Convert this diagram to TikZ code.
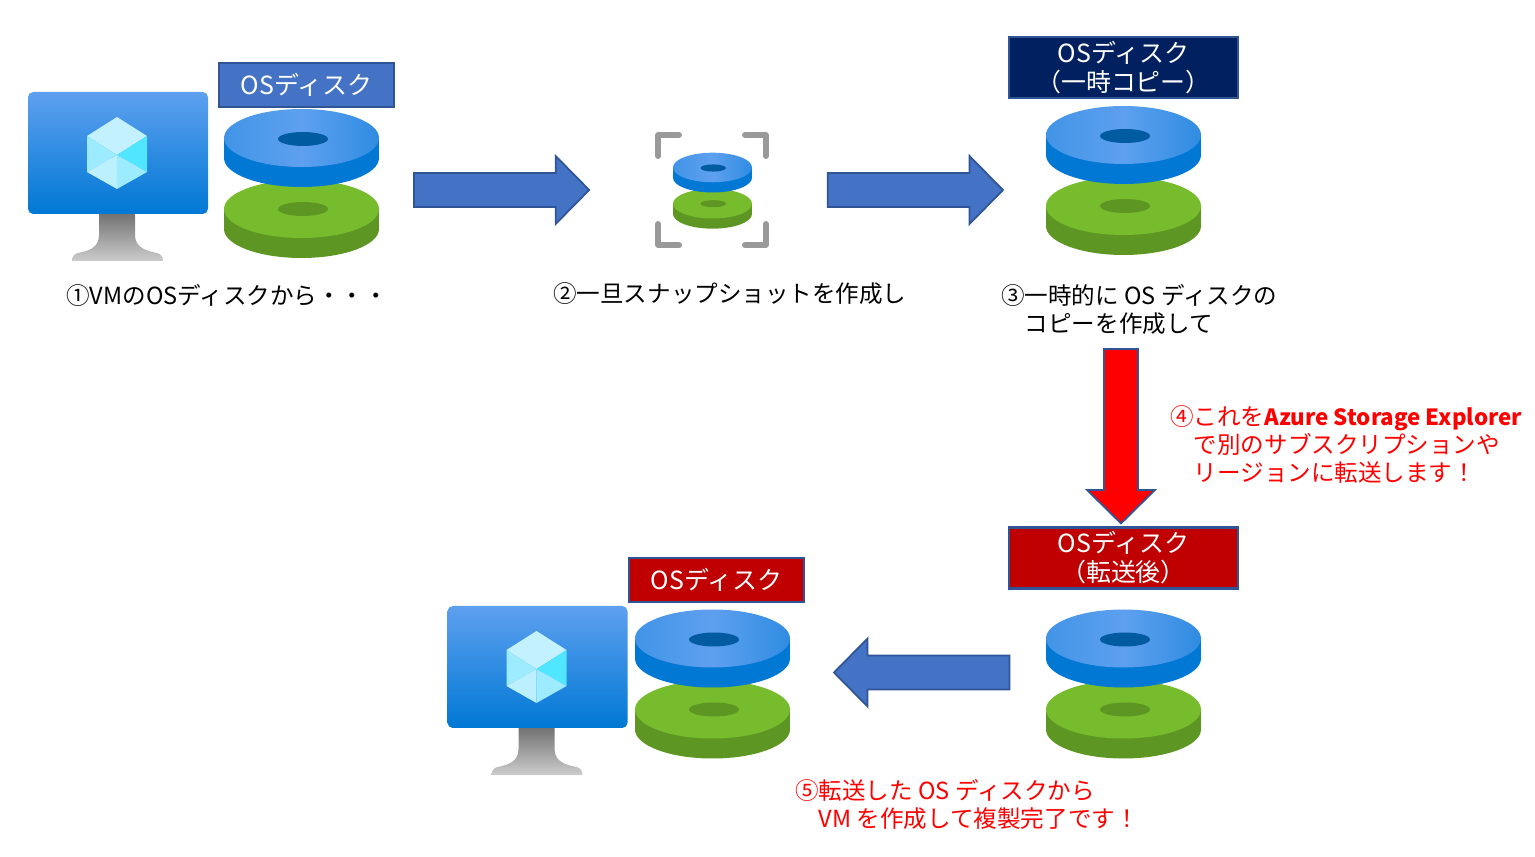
\documentclass[tikz,border=0pt]{standalone}
\usepackage{fontspec}
\usepackage{xcolor}
\usetikzlibrary{calc}
\setmainfont{Noto Sans CJK JP}
\definecolor{boxline}{HTML}{2F5597}
\definecolor{boxblue}{HTML}{4472C4}
\definecolor{boxnavy}{HTML}{002060}
\definecolor{boxred}{HTML}{C00000}
\definecolor{diskblue}{HTML}{0078D4}
\definecolor{diskshine}{HTML}{5EA0EF}
\definecolor{diskhole}{HTML}{005BA1}
\definecolor{diskgreen}{HTML}{76BC2D}
\definecolor{diskdark}{HTML}{5E9624}
\definecolor{cubepale}{HTML}{C3F1FF}
\definecolor{cubemid}{HTML}{9CEBFF}
\definecolor{cubebright}{HTML}{50E6FF}

\begin{document}
\begin{tikzpicture}[
  x=0.02cm, y=-0.02cm,
  every node/.style={font=\fontsize{13.4pt}{15.9pt}\selectfont},
  osbox/.style={draw=boxline, line width=1.2pt, text=white, align=center, minimum width=3.5cm, minimum height=0.88cm, inner sep=0pt, font=\fontsize{14.2pt}{16.5pt}\selectfont},
  tallbox/.style={osbox, minimum width=4.58cm, minimum height=1.22cm},
  note/.style={anchor=north west, align=left, inner sep=0pt},
  blockarrow/.style={draw=boxline, line width=1pt, fill=boxblue, line join=miter, to path={
    ($(\tikztotarget)!0.67cm!(\tikztostart)$) coordinate (hd)
    ($(\tikztostart)!0.34cm!90:(\tikztotarget)$) -- ($(hd)!0.34cm!-90:(\tikztostart)$)
    -- ($(hd)!0.68cm!-90:(\tikztostart)$) -- (\tikztotarget)
    -- ($(hd)!0.68cm!90:(\tikztostart)$) -- ($(hd)!0.34cm!90:(\tikztostart)$)
    -- ($(\tikztostart)!0.34cm!-90:(\tikztotarget)$) -- cycle}},
  disks/.pic={
    % Green disk below
    \fill[diskdark] (0,90) ellipse [x radius=77.5, y radius=29];
    \fill[diskdark] (-77.5,70) rectangle (77.5,90);
    \fill[diskgreen] (0,70) ellipse [x radius=77.5, y radius=29];
    \fill[diskdark] (1.5,70) ellipse [x radius=25, y radius=7];
    % Blue disk on top
    \fill[diskblue] (0,19) ellipse [x radius=77.5, y radius=29];
    \fill[diskblue] (-77.5,-1) rectangle (77.5,19);
    \shade[left color=diskblue!30!diskshine, right color=diskblue!50!diskshine, middle color=diskshine] (0,-1) ellipse [x radius=77.5, y radius=29];
    \fill[diskhole] (1.5,0) ellipse [x radius=25, y radius=7];
    \coordinate (-east) at (77.5,51);
    \coordinate (-west) at (-77.5,51);
  },
  monitor/.pic={
    % Stand
    \shade[top color=black!55, bottom color=black!20] (-18,61) -- (18,61) -- (18,82)
      .. controls (18,95) and (30,98) .. (40,100) .. controls (44,101) and (46,104) .. (46,108)
      -- (-45,108) .. controls (-45,104) and (-43,101) .. (-39,100)
      .. controls (-29,98) and (-18,95) .. (-18,82) -- cycle;
    % Screen
    \shade[top color=diskshine, bottom color=diskblue, rounded corners=3pt] (-89,-61) rectangle (91,61);
    % Cube
    \fill[cubepale] (0,-36) -- (30,-17) -- (0,2) -- (-30,-17) -- cycle;
    \fill[cubemid] (-30,-17) -- (0,2) -- (-30,19) -- cycle;
    \fill[cubebright] (30,-17) -- (0,2) -- (30,19) -- cycle;
    \fill[cubepale!85!cubemid] (-30,19) -- (0,2) -- (0,36) -- cycle;
    \fill[cubemid] (30,19) -- (0,2) -- (0,36) -- cycle;
  }
]
\useasboundingbox (0,0) rectangle (1535,857);

% First row: source VM and disks
\pic (srcvm) at (117,153) {monitor};
\pic (srcdisk) at (301.5,139) {disks};
\node[osbox, fill=boxblue] (srcbox) at (306.5,85) {OSディスク};
\node[note] (srcnote) at (66,284) {①VMのOSディスクから・・・};

% Snapshot
\node[minimum width=2.26cm, minimum height=2.3cm, inner sep=0pt] (snap) at (712,190) {};
\draw[black!40, line width=3.2pt, line cap=round, line join=round]
  ($(snap.north west)+(24,3)$) -- ($(snap.north west)+(3,3)$) -- ($(snap.north west)+(3,24)$)
  ($(snap.north east)+(-24,3)$) -- ($(snap.north east)+(-3,3)$) -- ($(snap.north east)+(-3,24)$)
  ($(snap.south west)+(24,-3)$) -- ($(snap.south west)+(3,-3)$) -- ($(snap.south west)+(3,-24)$)
  ($(snap.south east)+(-24,-3)$) -- ($(snap.south east)+(-3,-3)$) -- ($(snap.south east)+(-3,-24)$);
\pic[scale=0.51] (snapdisk) at (712.5,168) {disks};
\node[note] (snapnote) at (553,282) {②一旦スナップショットを作成し};

% Temporary copy
\pic (tmpdisk) at (1123.5,136) {disks};
\node[tallbox, fill=boxnavy] (tmpbox) at (1123.5,67.5) {OSディスク\\（一時コピー）};
\node[note] (tmpnote) at (1001,284) {③一時的に OS ディスクの\\　コピーを作成して};

% Transferred copy
\node[tallbox, fill=boxred] (dstbox) at (1123.5,558) {OSディスク\\（転送後）};
\pic (dstdisk) at (1123.5,639.5) {disks};
\node[note, text=red] (sendnote) at (1170,405) {④これを{\fontsize{12.7pt}{15.9pt}\selectfont\textbf{Azure Storage Explorer}}\\　で別のサブスクリプションや\\　リージョンに転送します！};

% Second row: new VM and disks
\pic (newvm) at (536.5,667) {monitor};
\pic (newdisk) at (712.5,639.5) {disks};
\node[osbox, fill=boxred] (newbox) at (716.5,580) {OSディスク};
\node[note, text=red] (newnote) at (795,779) {⑤転送した OS ディスクから\\　VM を作成して複製完了です！};

% Block arrows
\coordinate (sendstart) at (1121,349);
\draw[blockarrow] ($(srcdisk-east)+(35,0)$) to ($(snap.west)+(-66,0)$);
\draw[blockarrow] ($(snap.east)+(59,0)$) to ($(tmpdisk-west)+(-43,3)$);
\draw[blockarrow, fill=red] (sendstart) to ($(dstbox.north)+(-2.5,-3)$);
\draw[blockarrow] ($(dstdisk-west)+(-36.5,-18)$) to ($(newdisk-east)+(44,-18)$);
\end{tikzpicture}
\end{document}
